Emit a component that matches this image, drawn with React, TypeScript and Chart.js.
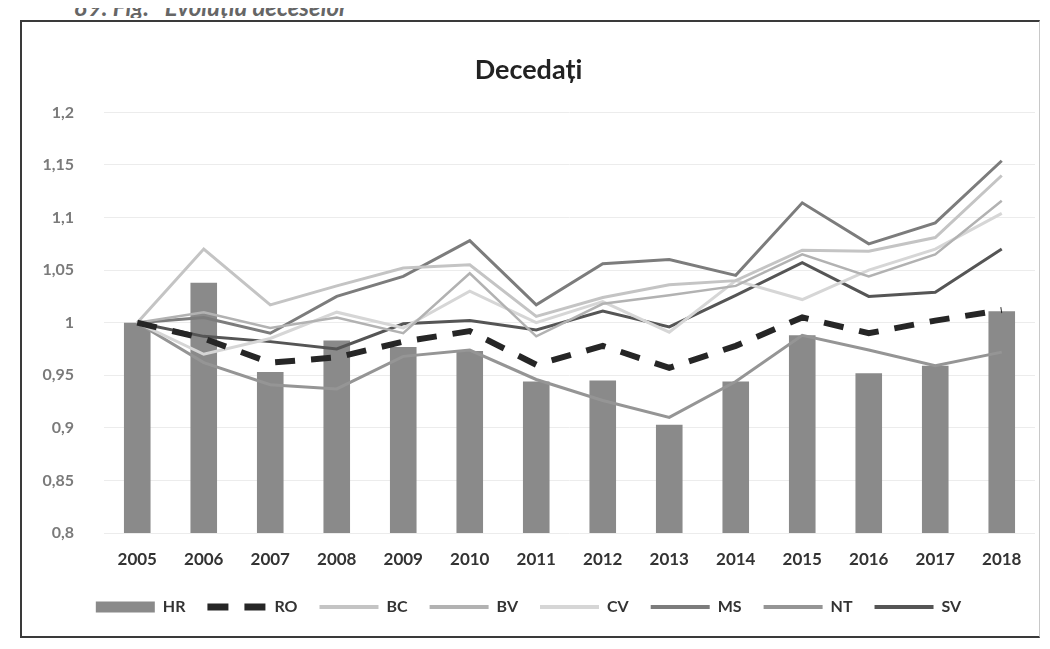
import { useEffect, useRef } from 'react';
import { Chart, registerables } from 'chart.js';

Chart.register(...registerables);

const years = ['2005', '2006', '2007', '2008', '2009', '2010', '2011', '2012', '2013', '2014', '2015', '2016', '2017', '2018'];
const hrValues = [1.0, 1.038, 0.953, 0.983, 0.977, 0.973, 0.944, 0.945, 0.903, 0.944, 0.988, 0.952, 0.959, 1.011];
const roValues = [1.0, 0.985, 0.962, 0.967, 0.982, 0.992, 0.96, 0.978, 0.957, 0.978, 1.005, 0.99, 1.002, 1.012];
const bcValues = [1.0, 1.07, 1.017, 1.035, 1.052, 1.055, 1.006, 1.024, 1.036, 1.04, 1.069, 1.068, 1.081, 1.14];
const bvValues = [1.0, 1.01, 0.995, 1.005, 0.99, 1.047, 0.987, 1.018, 1.026, 1.035, 1.065, 1.044, 1.065, 1.116];
const cvValues = [1.0, 0.97, 0.985, 1.01, 0.995, 1.03, 1.0, 1.02, 0.991, 1.04, 1.022, 1.05, 1.07, 1.104];
const msValues = [1.0, 1.005, 0.99, 1.025, 1.044, 1.078, 1.017, 1.056, 1.06, 1.045, 1.114, 1.075, 1.095, 1.154];
const ntValues = [1.0, 0.962, 0.941, 0.937, 0.968, 0.974, 0.946, 0.926, 0.91, 0.944, 0.988, 0.974, 0.959, 0.972];
const svValues = [1.0, 0.987, 0.982, 0.975, 0.999, 1.002, 0.993, 1.011, 0.996, 1.026, 1.057, 1.025, 1.029, 1.07];
const yTickValues = [0.8, 0.85, 0.9, 0.95, 1, 1.05, 1.1, 1.15, 1.2];
const yTickLabels = ['0,8', '0,85', '0,9', '0,95', '1', '1,05', '1,1', '1,15', '1,2'];
const chartTitle = 'Decedați';
const captionText = '89. Fig.   Evoluția deceselor';

const FONT = "Lato, 'Open Sans', sans-serif";

export default function App() {
  const canvasRef = useRef<HTMLCanvasElement | null>(null);

  useEffect(() => {
    if (!canvasRef.current) return;
    const line = (label: string, data: number[], color: string, width: number, dash: number[] = []) => ({
      type: 'line' as const,
      label,
      data,
      borderColor: color,
      backgroundColor: color,
      borderWidth: width,
      borderDash: dash,
      pointRadius: 0,
      pointStyle: 'line',
      tension: 0,
      order: 0,
    });
    const legendDash: Record<string, number[]> = { RO: [21, 16] };
    const chart = new Chart(canvasRef.current, {
      type: 'bar',
      data: {
        labels: years,
        datasets: [
          {
            type: 'bar',
            label: 'HR',
            data: hrValues,
            backgroundColor: '#8a8a8a',
            borderWidth: 0,
            barPercentage: 0.8,
            categoryPercentage: 0.5,
            pointStyle: 'rect',
            order: 5,
          } as any,
          line('RO', roValues, '#262626', 6, [20, 16]),
          line('BC', bcValues, '#c4c4c4', 3),
          line('BV', bvValues, '#b2b2b2', 2.5),
          line('CV', cvValues, '#d6d6d6', 3),
          line('MS', msValues, '#7c7c7c', 3),
          line('NT', ntValues, '#959595', 3),
          line('SV', svValues, '#555555', 3),
        ],
      },
      options: {
        animation: false,
        responsive: true,
        maintainAspectRatio: false,
        layout: { padding: { top: 0, left: 0, right: 4, bottom: 11 } },
        plugins: {
          title: {
            display: true,
            text: chartTitle,
            color: '#222222',
            font: { family: FONT, size: 27, weight: 'bold' },
            padding: { top: 32, bottom: 26 },
          },
          legend: {
            display: true,
            position: 'bottom',
            labels: {
              usePointStyle: true,
              pointStyleWidth: 59,
              boxHeight: 11,
              padding: 22,
              color: '#333333',
              font: { family: FONT, size: 16, weight: 'bold' },
              sort: (a: any, b: any) => a.datasetIndex - b.datasetIndex,
              generateLabels: (ch: any) => {
                const items = (Chart.defaults.plugins.legend.labels as any).generateLabels(ch);
                return items.map((it: any) => {
                  const ds: any = ch.data.datasets[it.datasetIndex];
                  if (ds.type === 'line') {
                    it.lineWidth = ds.label === 'RO' ? 7 : 4;
                    it.lineDash = legendDash[ds.label] || [];
                    it.strokeStyle = ds.borderColor;
                  }
                  return it;
                });
              },
            },
          },
          tooltip: { enabled: false },
        },
        scales: {
          x: {
            offset: true,
            grid: { display: false, drawTicks: false },
            border: { display: false },
            afterFit: (scale: any) => {
              scale.height = 44;
            },
            ticks: {
              color: '#333333',
              padding: 16,
              font: { family: FONT, size: 17, weight: 'bold' },
            },
          },
          y: {
            min: 0.8,
            max: 1.2,
            afterBuildTicks: (scale: any) => {
              scale.ticks = yTickValues.map((v) => ({ value: v }));
            },
            afterFit: (scale: any) => {
              scale.width = 82;
            },
            grid: { color: '#ececec', drawTicks: false },
            border: { display: false },
            ticks: {
              color: '#7a7a7a',
              padding: 30,
              font: { family: FONT, size: 16, weight: 'bold' },
              callback: (value: any) => {
                const i = yTickValues.findIndex((v) => Math.abs(v - Number(value)) < 1e-6);
                return i >= 0 ? yTickLabels[i] : '';
              },
            },
          },
        },
      },
    } as any);
    return () => chart.destroy();
  }, []);

  return (
    <div style={{ position: 'relative', width: 1034, height: 633, overflow: 'hidden', background: '#ffffff' }}>
      <div
        style={{
          position: 'absolute',
          left: 66,
          top: -8,
          height: 18,
          overflow: 'hidden',
          fontFamily: FONT,
          fontStyle: 'italic',
          fontWeight: 'bold',
          fontSize: 24,
          lineHeight: '24px',
          color: '#666666',
          whiteSpace: 'pre',
        }}
      >
        <div style={{ marginTop: -5 }}>{captionText}</div>
      </div>
      <div
        style={{
          position: 'absolute',
          left: 12,
          top: 12,
          width: 1020,
          height: 618,
          boxSizing: 'border-box',
          borderTop: '2px solid #3a3a3a',
          borderLeft: '2px solid #3a3a3a',
          borderBottom: '2px solid #3a3a3a',
          borderRight: '1px solid #c8c8c8',
          background: '#ffffff',
        }}
      >
        <div style={{ position: 'relative', width: 1017, height: 614 }}>
          <canvas ref={canvasRef} />
        </div>
      </div>
    </div>
  );
}
